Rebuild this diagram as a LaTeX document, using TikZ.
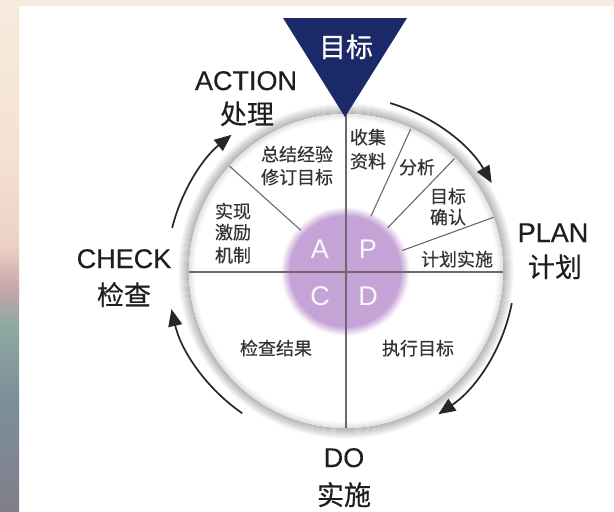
\documentclass[tikz,border=0pt]{standalone}
\usepackage{fontspec}
\setmainfont{Liberation Sans}
\newfontfamily\cjk{Noto Sans CJK SC}
\newfontfamily\cjkb[FakeBold=0.4]{Noto Sans CJK SC}
\newfontfamily\latb[FakeBold=0.3]{Liberation Sans}
\usetikzlibrary{arrows.meta}
\definecolor{navy}{HTML}{1B2968}
\definecolor{lilac}{HTML}{C6A3D6}
\definecolor{cream}{HTML}{F6ECDF}
\definecolor{segline}{HTML}{6A6A6A}
\definecolor{txt}{HTML}{333333}
\definecolor{lbl}{HTML}{1E1E1E}
\definecolor{s1}{HTML}{F6EBDD}
\definecolor{s2}{HTML}{F4E2D3}
\definecolor{s3}{HTML}{EDD2C4}
\definecolor{s4}{HTML}{C9A6AA}
\definecolor{s5}{HTML}{8EA9A2}
\definecolor{s6}{HTML}{7C8E98}
\definecolor{s7}{HTML}{807F8B}
\pgfdeclareradialshading{softdisk}{\pgfpointorigin}{color(0bp)=(lilac); color(21bp)=(lilac); color(24.5bp)=(white); color(50bp)=(white)}
\begin{document}
\begin{tikzpicture}[x=1pt,y=-1pt,
  seg/.style={draw=segline,line width=1.1pt},
  intext/.style={font=\cjkb\fontsize{18}{22}\selectfont,text=txt,inner sep=0pt,anchor=base},
  outlbl/.style={font=\latb\fontsize{27}{30}\selectfont,text=lbl,inner sep=0pt,anchor=base},
  outcjk/.style={font=\cjkb\fontsize{27}{30}\selectfont,text=lbl,inner sep=0pt,anchor=base},
  cyc/.style={line width=1.7pt,draw=black!85,-{Triangle[length=17pt,width=14pt]}},
  letter/.style={font=\fontsize{27}{27}\selectfont,text=white!92!lilac,inner sep=0pt,anchor=base}
]
\useasboundingbox (0,0) rectangle (614,512);
\fill[white] (0,0) rectangle (614,512);
\fill[cream] (0,0) rectangle (614,6);
\shade[top color=s1,bottom color=s2] (0,0) rectangle (19,150);
\shade[top color=s2,bottom color=s3] (0,150) rectangle (19,245);
\shade[top color=s3,bottom color=s4] (0,245) rectangle (19,288);
\shade[top color=s4,bottom color=s5] (0,288) rectangle (19,325);
\shade[top color=s5,bottom color=s6] (0,325) rectangle (19,400);
\shade[top color=s6,bottom color=s7] (0,400) rectangle (19,512);

% main disc
\coordinate (O) at (346,271);
\coordinate (Ar) at (341,270);
\foreach \i in {0,...,10}{
  \draw[black,opacity={0.26-0.024*\i},line width=1pt] (O) circle[radius={157.5+\i}];
}
\fill[white] (O) circle[radius=157];
\foreach \i in {0,...,5}{
  \draw[black,opacity={0.10-0.017*\i},line width=1pt] (O) circle[radius={156.5-\i}];
}
\shade[shading=softdisk] (345,271) circle[radius=66];

% separators
\coordinate (vt) at (346,114);
\coordinate (vb) at (346,428);
\coordinate (hl) at (189,272);
\coordinate (hr) at (503,272);
\draw[seg] (vt) -- (vb);
\draw[seg] (hl) -- (hr);
\begin{scope}[shift={(O)}]
  \coordinate (l1a) at (-138:61); \coordinate (l1b) at (-138:157);
  \coordinate (l2a) at (-65.5:60); \coordinate (l2b) at (-65.5:156);
  \coordinate (l3a) at (-46:60);   \coordinate (l3b) at (-46:156);
  \coordinate (l4a) at (-20:60);   \coordinate (l4b) at (-20:157);
\end{scope}
\draw[seg] (l1a) -- (l1b);
\draw[seg] (l2a) -- (l2b);
\draw[seg] (l3a) -- (l3b);
\draw[seg] (l4a) -- (l4b);

% PDCA letters
\node[letter] (lA) at (320,258) {A};
\node[letter] (lP) at (368,258) {P};
\node[letter] (lC) at (320,305) {C};
\node[letter] (lD) at (368,305) {D};

% inner texts
\node[intext] (t1) at (368,144) {收集};
\node[intext] (t2) at (368,168) {资料};
\node[intext] (t3) at (417,174) {分析};
\node[intext] (t4) at (448,203) {目标};
\node[intext] (t5) at (448,224) {确认};
\node[intext] (t6) at (457,266) {计划实施};
\node[intext] (t7) at (297,161) {总结经验};
\node[intext] (t8) at (297,184) {修订目标};
\node[intext] (t9) at (233,218) {实现};
\node[intext] (t10) at (233,239) {激励};
\node[intext] (t11) at (233,262) {机制};
\node[intext] (t12) at (276,355) {检查结果};
\node[intext] (t13) at (418,355) {执行目标};

% goal triangle
\fill[navy] (283,18) -- (407,18) -- (345,117) -- cycle;
\node[font=\cjkb\fontsize{27}{30}\selectfont,text=white,inner sep=0pt,anchor=base] (goal) at (346,57) {目标};

% outer labels
\node[outlbl] (act) at (246,90) {ACTION};
\node[outcjk] (act2) at (247,124) {处理};
\node[outlbl] (chk) at (124,268) {CHECK};
\node[outcjk] (chk2) at (124,305) {检查};
\node[outlbl] (pln) at (553,242) {PLAN};
\node[outcjk] (pln2) at (555,277) {计划};
\node[outlbl] (do) at (344,467) {DO};
\node[outcjk] (do2) at (344,505) {实施};

% cycle arrows
\draw[cyc] ([shift={(-73.6:174)}]Ar) arc[start angle=-73.6,end angle=-30,radius=174];
\draw[cyc] ([shift={(11:174)}]Ar) arc[start angle=11,end angle=56,radius=174];
\draw[cyc] ([shift={(124.6:174)}]Ar) arc[start angle=124.6,end angle=167,radius=174];
\draw[cyc] ([shift={(194:174)}]Ar) arc[start angle=194,end angle=231,radius=174];
\end{tikzpicture}
\end{document}
